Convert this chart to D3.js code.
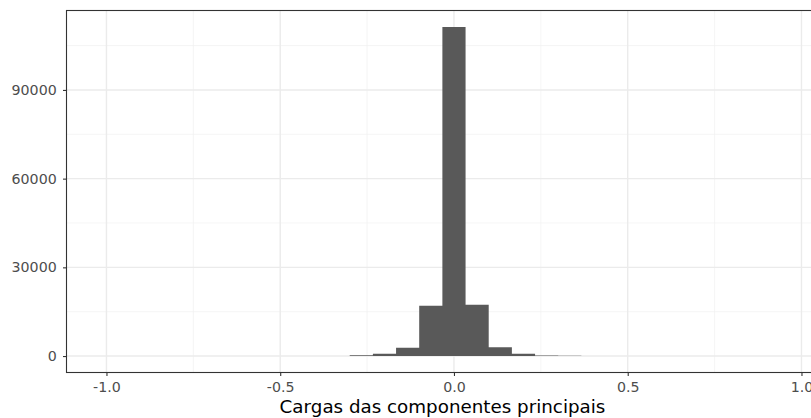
<!DOCTYPE html>
<html>
<head>
<meta charset="utf-8">
<script src="https://cdn.jsdelivr.net/npm/d3@7"></script>
<style>
  html, body { margin: 0; padding: 0; background: #fff; }
  svg { display: block; }
  text { font-family: "DejaVu Sans", sans-serif; }
</style>
</head>
<body>
<svg id="chart" width="811" height="418"></svg>
<script>
// Histogram of principal component loadings (bin centres and counts)
const binWidth = 1 / 15;
const binCenters = [-0.2667, -0.2, -0.1333, -0.0667, 0, 0.0667, 0.1333, 0.2, 0.2667, 0.3333];
const binCounts = [250, 800, 2800, 17000, 111300, 17350, 3000, 780, 200, 100];
const xTicks = [-1.0, -0.5, 0.0, 0.5, 1.0];
const xMinorTicks = [-0.75, -0.25, 0.25, 0.75];
const yTicks = [0, 30000, 60000, 90000];
const yMinorTicks = [15000, 45000, 75000, 105000];
const xTitle = "Cargas das componentes principais";

const svg = d3.select("#chart");
const panel = { left: 66.5, top: 10.5, right: 818.5, bottom: 372.5 };

const x = d3.scaleLinear().domain([-1.115, 1.049]).range([panel.left, panel.right]);
const yMax = d3.max(binCounts);
const y = d3.scaleLinear().domain([-0.05 * yMax, 1.05 * yMax]).range([panel.bottom, panel.top]);

const g = svg.append("g");

// minor grid
g.selectAll(".xminor").data(xMinorTicks).join("line")
  .attr("x1", d => x(d)).attr("x2", d => x(d))
  .attr("y1", panel.top).attr("y2", panel.bottom)
  .attr("stroke", "#f0f0f0").attr("stroke-width", 0.7);
g.selectAll(".yminor").data(yMinorTicks).join("line")
  .attr("y1", d => y(d)).attr("y2", d => y(d))
  .attr("x1", panel.left).attr("x2", panel.right)
  .attr("stroke", "#f0f0f0").attr("stroke-width", 0.7);

// major grid
g.selectAll(".xmajor").data(xTicks).join("line")
  .attr("x1", d => x(d)).attr("x2", d => x(d))
  .attr("y1", panel.top).attr("y2", panel.bottom)
  .attr("stroke", "#ebebeb").attr("stroke-width", 1.4);
g.selectAll(".ymajor").data(yTicks).join("line")
  .attr("y1", d => y(d)).attr("y2", d => y(d))
  .attr("x1", panel.left).attr("x2", panel.right)
  .attr("stroke", "#ebebeb").attr("stroke-width", 1.4);

// bars, drawn as one stepped area so adjacent bins share edges without seams
const steps = binCenters.map((c, i) => ({ x0: c - binWidth / 2, n: binCounts[i] }));
steps.push({ x0: binCenters[binCenters.length - 1] + binWidth / 2, n: 0 });
const area = d3.area()
  .x(d => x(d.x0))
  .y0(y(0))
  .y1(d => y(d.n))
  .curve(d3.curveStepAfter);
g.append("path")
  .datum(steps)
  .attr("d", area)
  .attr("fill", "#595959");

// panel border
g.append("rect")
  .attr("x", panel.left).attr("y", panel.top)
  .attr("width", panel.right - panel.left).attr("height", panel.bottom - panel.top)
  .attr("fill", "none").attr("stroke", "#333333").attr("stroke-width", 1.1);

// x axis
const xAxis = d3.axisBottom(x).tickValues(xTicks).tickSize(3.5).tickPadding(6.3)
  .tickFormat(d => d3.format(".1f")(d).replace("−", "-"));
const gx = svg.append("g").attr("transform", `translate(0,${panel.bottom})`).call(xAxis);
gx.select(".domain").remove();
gx.selectAll(".tick line").attr("stroke", "#333333").attr("stroke-width", 1.1);
gx.selectAll(".tick text").attr("fill", "#4d4d4d")
  .style("font-size", "14.2px").style("font-family", "DejaVu Sans, sans-serif");

// y axis
const yAxis = d3.axisLeft(y).tickValues(yTicks).tickSize(3.5).tickPadding(6.3)
  .tickFormat(d3.format("d"));
const gy = svg.append("g").attr("transform", `translate(${panel.left},0)`).call(yAxis);
gy.select(".domain").remove();
gy.selectAll(".tick line").attr("stroke", "#333333").attr("stroke-width", 1.1);
gy.selectAll(".tick text").attr("fill", "#4d4d4d")
  .style("font-size", "14.2px").style("font-family", "DejaVu Sans, sans-serif");

// axis title
svg.append("text")
  .attr("x", (panel.left + panel.right) / 2).attr("y", 412.7)
  .attr("text-anchor", "middle")
  .attr("fill", "#000")
  .style("font-size", "18.3px")
  .text(xTitle);
</script>
</body>
</html>
